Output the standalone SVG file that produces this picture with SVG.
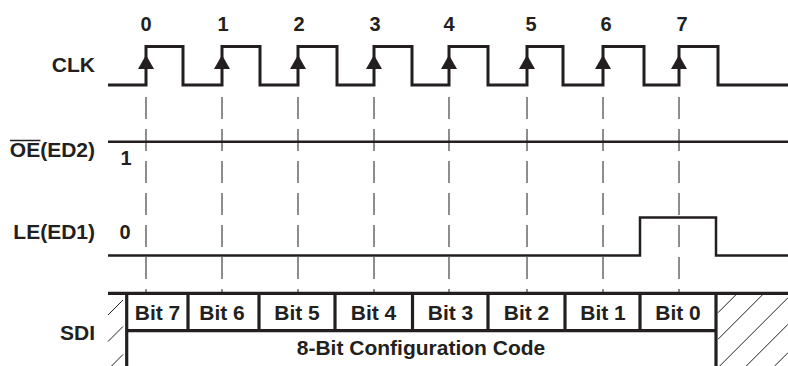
<svg xmlns="http://www.w3.org/2000/svg" width="788" height="366" viewBox="0 0 788 366">
<style>
text{font-family:"Liberation Sans",Arial,sans-serif;font-weight:bold;font-size:21px;fill:#231f20}
.lbl{text-anchor:end}
.mid{text-anchor:middle}
.num{text-anchor:middle;font-size:20px}
.wave{fill:none;stroke:#231f20;stroke-width:3;stroke-linejoin:miter}
.thin{fill:none;stroke:#231f20;stroke-width:2.5}
.dash{fill:none;stroke:#444;stroke-width:1.2;stroke-dasharray:22 10}
.box{fill:none;stroke:#231f20;stroke-width:3.2}
.hatch{fill:none;stroke:#231f20;stroke-width:1}
.arr{fill:#231f20}
</style>
<rect width="788" height="366" fill="#fff"/>
<g id="connectors">
<path class="dash" d="M146,97V292M222,97V292M298,97V292M374,97V292M449,97V292M527,97V292M603,97V292M679,97V292"/>
</g>
<g id="clk">
<text class="lbl" x="95" y="71.5">CLK</text>
<text class="num" x="146" y="30.5">0</text>
<text class="num" x="223" y="30.5">1</text>
<text class="num" x="299" y="30.5">2</text>
<text class="num" x="375" y="30.5">3</text>
<text class="num" x="449" y="30.5">4</text>
<text class="num" x="531" y="30.5">5</text>
<text class="num" x="606" y="30.5">6</text>
<text class="num" x="682" y="30.5">7</text>
<path class="wave" d="M108,85H146V46.5H183V85H222V46.5H260V85H298V46.5H337V85H374V46.5H412V85H449V46.5H488V85H527V46.5H563V85H603V46.5H644V85H679V46.5H718V85H788"/>
<g class="arr">
<polygon points="146,55 138,69 154,69"/>
<polygon points="222,55 214,69 230,69"/>
<polygon points="298,55 290,69 306,69"/>
<polygon points="374,55 366,69 382,69"/>
<polygon points="449,55 441,69 457,69"/>
<polygon points="527,55 519,69 535,69"/>
<polygon points="603,55 595,69 611,69"/>
<polygon points="679,55 671,69 687,69"/>
</g>
</g>
<g id="oe">
<text class="lbl" x="95" y="157">OE(ED2)</text>
<line x1="10" y1="140.5" x2="40.5" y2="140.5" stroke="#231f20" stroke-width="1.5"/>
<text class="num" x="126" y="165">1</text>
<path class="thin" d="M108,141.7H788"/>
</g>
<g id="le">
<text class="lbl" x="95" y="239">LE(ED1)</text>
<text class="num" x="125" y="239">0</text>
<path class="thin" d="M108,255.5H640V217.5H716V255.5H788"/>
</g>
<g id="sdi">
<text class="lbl" x="95" y="340">SDI</text>
<path class="hatch" d="M108,315L123,300M108,341.5L123,326.5M111.5,366L123,354.5"/>
<path class="hatch" d="M718,312.7L736,294.7M718,339.3L763,294.3M719.7,366L788,297.7M746.3,366L788,324.3M774.7,366L788,352.7"/>
<path class="box" d="M108,293.3H788M127,330.7H716M126.7,293.3V366M716,293.3V366M188,293.3V330.7M259,293.3V330.7M335,293.3V330.7M412.5,293.3V330.7M488,293.3V330.7M565,293.3V330.7M640,293.3V330.7"/>
<text class="mid" x="157.5" y="320">Bit 7</text>
<text class="mid" x="222" y="320">Bit 6</text>
<text class="mid" x="297" y="320">Bit 5</text>
<text class="mid" x="373.5" y="320">Bit 4</text>
<text class="mid" x="450.5" y="320">Bit 3</text>
<text class="mid" x="526.5" y="320">Bit 2</text>
<text class="mid" x="603" y="320">Bit 1</text>
<text class="mid" x="678" y="320">Bit 0</text>
<text class="mid" x="421" y="355">8-Bit Configuration Code</text>
</g>
</svg>
